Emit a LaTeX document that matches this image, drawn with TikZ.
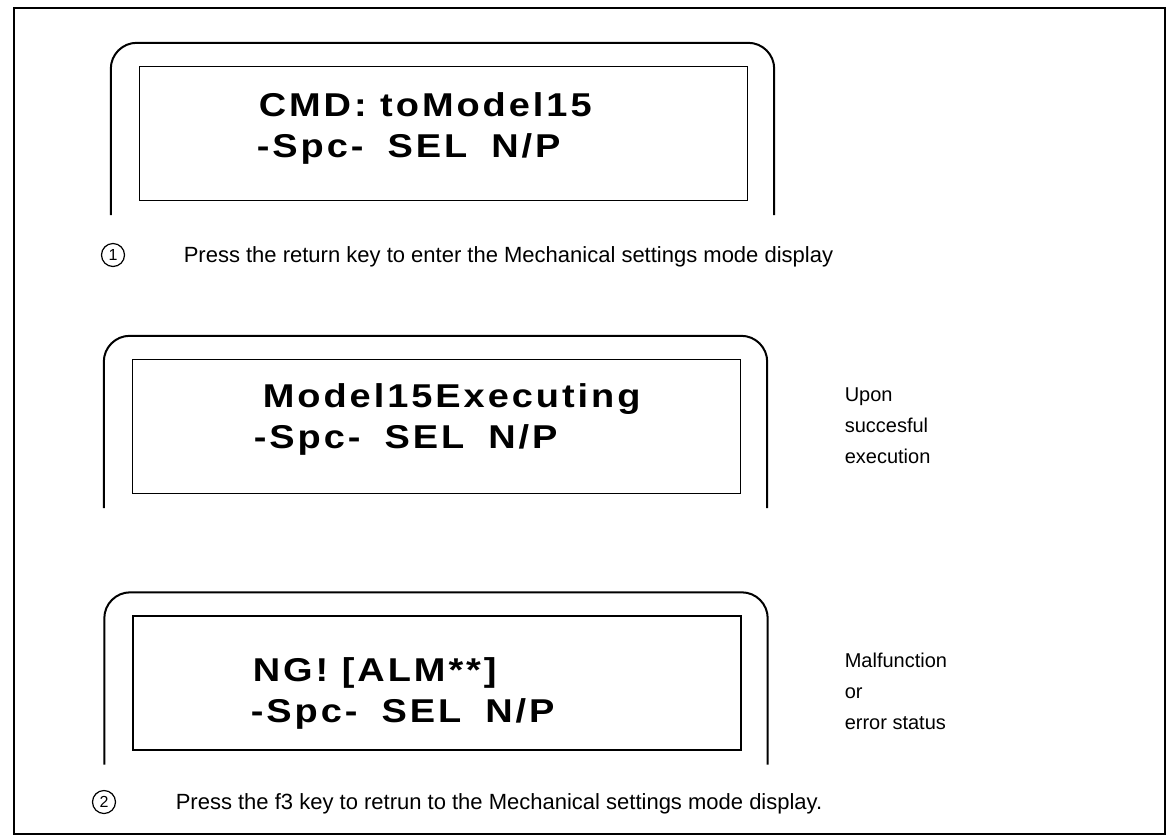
\documentclass[tikz,border=0pt]{standalone}
\usepackage{fontspec}
\setmainfont{Liberation Sans}
\newfontfamily\lcdfont[FakeStretch=1.15,LetterSpace=9]{Liberation Sans}
\usetikzlibrary{positioning}

\begin{document}
\begin{tikzpicture}[x=0.5pt,y=-0.5pt,line width=0.8pt]

	\tikzset{screen/.style={draw, line width=0.7pt,
			minimum width=304pt, minimum height=67pt}}
	\tikzset{bezel/.style={line width=1pt, rounded corners=13pt}}
	\tikzset{lcd/.style={anchor=base west, inner sep=0pt,
			font=\lcdfont\bfseries\fontsize{16.5}{19}\selectfont}}
	\tikzset{hint/.style={anchor=base west, inner sep=0pt,
			font=\fontsize{11}{13}\selectfont}}
	\tikzset{note/.style={anchor=west, align=left, inner sep=0pt,
			font=\fontsize{10}{15.5}\selectfont}}
	\tikzset{num/.style={circle, draw, line width=0.6pt, inner sep=0pt,
			minimum size=11.5pt, font=\fontsize{8}{8}\selectfont}}
	\newcommand{\selrow}{-Spc-\hspace{12pt}SEL\hspace{12pt}N/P}

	\useasboundingbox (0,0) rectangle (1173,837);
	\draw[line width=0.7pt] (14,8) rectangle (1165,834);

	% displays
	\node[screen] (scr1) at (443.5,133.5) {};
	\node[screen] (scr2) at (436.5,426.5) {};
	\node[screen] (scr3) at (437,683) {};
	\foreach \s in {scr1,scr2,scr3}
		\draw[bezel] ([shift={(-14pt,-7pt)}]\s.south west)
			|- ([shift={(13pt,11.5pt)}]\s.north east)
			-- ([shift={(13pt,-7pt)}]\s.south east);

	\node[lcd] (cmd) at (258,116) {CMD: toModel15};
	\node[lcd] (sel1) at (256,157) {\selrow};
	\node[lcd] (exe) at (262,407) {Model15Executing};
	\node[lcd] (sel2) at (253,448) {\selrow};
	\node[lcd] (ng) at (252,681) {NG! [ALM**]};
	\node[lcd] (sel3) at (250,722) {\selrow};

	% results
	\node[note] (ok) at (844,426) {Upon\\succesful\\execution};
	\node[note] (err) at (844,691) {Malfunction\\or\\error status};

	% steps
	\node[num] (n1) at (113,255) {1};
	\node[hint] (t1) at (183,262.5)
		{Press the return key to enter the Mechanical settings mode display};
	\node[num] (n2) at (104,802) {2};
	\node[hint] (t2) at (175,809.5)
		{Press the f3 key to retrun to the Mechanical settings mode display.};
\end{tikzpicture}
\end{document}
